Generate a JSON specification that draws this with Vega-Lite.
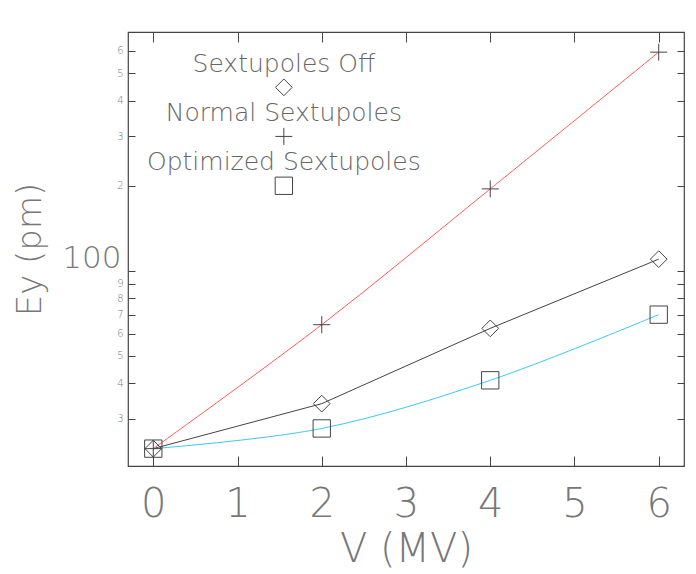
{
  "$schema": "https://vega.github.io/schema/vega-lite/v6.json",
  "width": 556,
  "height": 434,
  "autosize": "none",
  "padding": {"left": 128, "top": 32, "right": 12, "bottom": 108},
  "background": "white",
  "config": {
    "view": {"stroke": "#444", "strokeWidth": 1.2},
    "font": "DejaVu Sans",
    "axis": {"domainColor": "#444", "tickColor": "#444", "labelColor": "#777", "titleColor": "#777", "grid": false, "labelFont": "DejaVu Sans", "titleFont": "DejaVu Sans", "labelFontWeight": 200, "titleFontWeight": 200}
  },
  "resolve": {"axis": {"x": "independent", "y": "independent"}},
  "datasets": {
    "series": [
      {"v": 0, "ey": 23.5, "s": "Normal Sextupoles"},
      {"v": 2, "ey": 64.5, "s": "Normal Sextupoles"},
      {"v": 4, "ey": 195, "s": "Normal Sextupoles"},
      {"v": 6, "ey": 594, "s": "Normal Sextupoles"},
      {"v": 0, "ey": 23.5, "s": "Sextupoles Off"},
      {"v": 2, "ey": 33.9, "s": "Sextupoles Off"},
      {"v": 4, "ey": 62.6, "s": "Sextupoles Off"},
      {"v": 6, "ey": 110, "s": "Sextupoles Off"},
      {"v": 0, "ey": 23.5, "s": "Optimized Sextupoles"},
      {"v": 2, "ey": 27.7, "s": "Optimized Sextupoles"},
      {"v": 4, "ey": 41, "s": "Optimized Sextupoles"},
      {"v": 6, "ey": 70, "s": "Optimized Sextupoles"}
    ],
    "legend": [
      {"v": 1.55, "ty": 539, "sy": 446, "s": "Sextupoles Off"},
      {"v": 1.55, "ty": 361, "sy": 299, "s": "Normal Sextupoles"},
      {"v": 1.55, "ty": 243, "sy": 200, "s": "Optimized Sextupoles"}
    ]
  },
  "layer": [
    {
      "data": {"name": "series"},
      "transform": [{"filter": "datum.s == 'Sextupoles Off'"}],
      "mark": {"type": "line", "color": "#444", "strokeWidth": 1},
      "encoding": {
        "x": {"field": "v", "type": "quantitative",
          "scale": {"domain": [-0.3, 6.3], "nice": false, "zero": false},
          "axis": {"orient": "bottom", "values": [0, 1, 2, 3, 4, 5, 6], "tickSize": -10, "labelPadding": 28, "labelFontSize": 40, "title": "V (MV)", "titleFontSize": 40, "titlePadding": 5, "domain": false}},
        "y": {"field": "ey", "type": "quantitative",
          "scale": {"type": "log", "domain": [20.4, 700], "nice": false},
          "axis": {"orient": "left", "values": [30, 40, 50, 60, 70, 80, 90, 100, 200, 300, 400, 500, 600], "tickSize": -7, "labelPadding": 12,
            "labelExpr": "datum.value == 100 ? '100' : substring('' + datum.value, 0, 1)",
            "labelFontSize": {"condition": {"test": "datum.value == 100", "value": 31}, "value": 10},
            "labelOffset": {"condition": {"test": "datum.value == 100", "value": -12}, "value": 0},
            "labelPadding": {"condition": {"test": "datum.value == 100", "value": 14}, "value": 12},
            "title": "Ey (pm)", "titleFontSize": 34, "titlePadding": 14, "domain": false}}
      }
    },
    {
      "data": {"name": "series"},
      "transform": [{"filter": "datum.s != 'Sextupoles Off'"}],
      "mark": {"type": "line", "interpolate": "catmull-rom", "strokeWidth": 1},
      "encoding": {
        "x": {"field": "v", "type": "quantitative", "axis": null},
        "y": {"field": "ey", "type": "quantitative", "axis": null},
        "color": {"field": "s", "type": "nominal", "legend": null,
          "scale": {"domain": ["Normal Sextupoles", "Optimized Sextupoles"], "range": ["#ff5a5a", "#3cc8f5"]}}
      }
    },
    {
      "data": {"name": "series"},
      "mark": {"type": "point", "filled": false, "stroke": "#444", "strokeWidth": 1, "opacity": 1},
      "encoding": {
        "x": {"field": "v", "type": "quantitative", "axis": {"orient": "top", "values": [0, 1, 2, 3, 4, 5, 6], "tickSize": -10, "labels": false, "title": null, "domain": false}},
        "y": {"field": "ey", "type": "quantitative", "axis": {"orient": "right", "values": [30, 40, 50, 60, 70, 80, 90, 100, 200, 300, 400, 500, 600], "tickSize": -7, "labels": false, "title": null, "domain": false}},
        "shape": {"field": "s", "type": "nominal", "legend": null,
          "scale": {"domain": ["Sextupoles Off", "Normal Sextupoles", "Optimized Sextupoles"], "range": ["diamond", "M-1,0H1M0,-1V1", "square"]}},
        "size": {"field": "s", "type": "nominal", "legend": null,
          "scale": {"domain": ["Sextupoles Off", "Normal Sextupoles", "Optimized Sextupoles"], "range": [280, 300, 280]}}
      }
    },
    {
      "data": {"name": "legend"},
      "mark": {"type": "text", "fontSize": 25, "font": "DejaVu Sans", "fontWeight": 200, "color": "#666", "align": "center", "baseline": "middle"},
      "encoding": {
        "x": {"field": "v", "type": "quantitative", "axis": null},
        "y": {"field": "ty", "type": "quantitative", "axis": null},
        "text": {"field": "s"}
      }
    },
    {
      "data": {"name": "legend"},
      "mark": {"type": "point", "filled": false, "stroke": "#444", "strokeWidth": 1, "opacity": 1},
      "encoding": {
        "x": {"field": "v", "type": "quantitative", "axis": null},
        "y": {"field": "sy", "type": "quantitative", "axis": null},
        "shape": {"field": "s", "type": "nominal", "legend": null},
        "size": {"field": "s", "type": "nominal", "legend": null}
      }
    }
  ]
}
